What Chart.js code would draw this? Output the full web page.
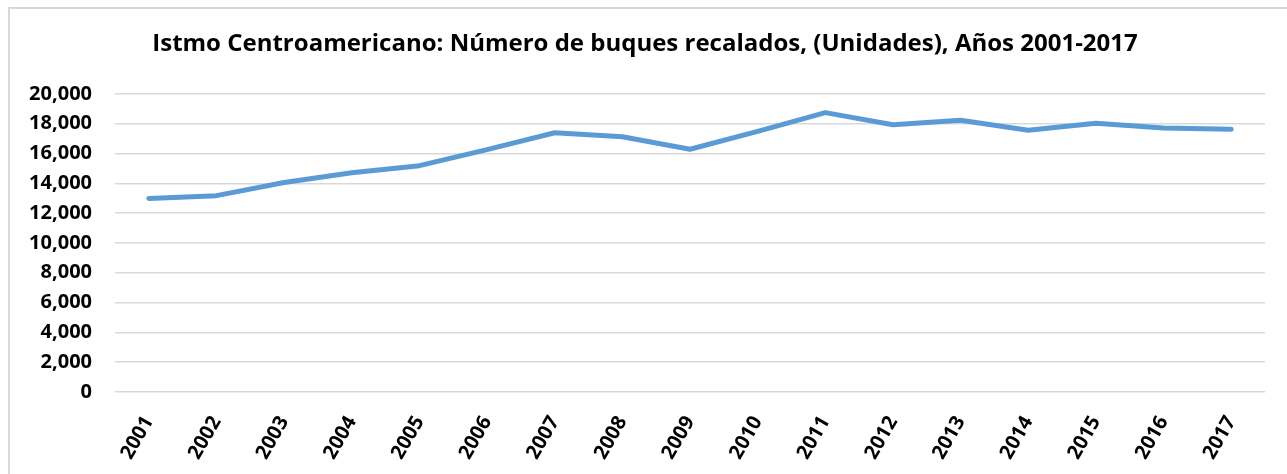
<!DOCTYPE html>
<html lang="es">
<head>
<meta charset="utf-8">
<title>Número de buques recalados</title>
<script src="https://cdn.jsdelivr.net/npm/chart.js@4"></script>
<style>
    html, body {
        margin: 0;
        padding: 0;
        background: #ffffff;
        overflow: hidden;
    }
    .chart-frame {
        position: absolute;
        left: 8px;
        top: 7px;
        width: 1300px;
        height: 500px;
        border: 2px solid #d9d9d9;
        box-sizing: border-box;
    }
    .chart-wrap {
        position: absolute;
        left: 0;
        top: 0;
        width: 1287px;
        height: 474px;
    }
</style>
</head>
<body>
<div class="chart-frame"></div>
<div class="chart-wrap">
    <canvas id="buques-chart" width="1287" height="474"></canvas>
</div>
<script>
// Chart data
const years = ['2001', '2002', '2003', '2004', '2005', '2006', '2007', '2008', '2009',
               '2010', '2011', '2012', '2013', '2014', '2015', '2016', '2017'];
const buques = [12980, 13170, 14050, 14700, 15180, 16260, 17390, 17120, 16280,
                17480, 18740, 17920, 18220, 17560, 18020, 17700, 17630];
const yTicks = [0, 2000, 4000, 6000, 8000, 10000, 12000, 14000, 16000, 18000, 20000];
const chartTitle = 'Istmo Centroamericano: Número de buques recalados, (Unidades), Años 2001-2017';

const FONT = '"Open Sans", "Liberation Sans", sans-serif';

/**
 * Format a number with commas as thousands separator
 */
function formatNumber(value) {
    return value.toString().replace(/\B(?=(\d{3})+(?!\d))/g, ',');
}

function initChart() {
    const canvas = document.getElementById('buques-chart');

    new Chart(canvas.getContext('2d'), {
        type: 'line',
        data: {
            labels: years,
            datasets: [{
                label: 'Buques recalados',
                data: buques,
                borderColor: '#5b9bd5',
                backgroundColor: '#5b9bd5',
                borderWidth: 5,
                borderCapStyle: 'round',
                borderJoinStyle: 'round',
                pointRadius: 0,
                tension: 0,
                fill: false
            }]
        },
        options: {
            responsive: false,
            animation: false,
            layout: {
                // a bit of left padding moves the title centre to the right
                padding: { left: 25, right: 22, top: 0, bottom: 0 }
            },
            plugins: {
                legend: { display: false },
                tooltip: { enabled: false },
                title: {
                    display: true,
                    text: chartTitle,
                    color: '#000000',
                    font: { family: FONT, size: 24, weight: 'bold' },
                    padding: { top: 30, bottom: 35 }
                }
            },
            scales: {
                x: {
                    offset: true,
                    grid: { display: false },
                    border: { display: false },
                    ticks: {
                        color: '#000000',
                        font: { family: FONT, size: 20, weight: 'bold' },
                        minRotation: 60,
                        maxRotation: 60,
                        padding: 12,
                        autoSkip: false
                    },
                    afterFit: function(scale) {
                        scale.height = 82;
                    }
                },
                y: {
                    min: 0,
                    max: 20000,
                    grid: {
                        color: '#d9d9d9',
                        lineWidth: 1.5,
                        drawTicks: false
                    },
                    border: { display: false },
                    afterBuildTicks: function(scale) {
                        scale.ticks = yTicks.map(v => ({ value: v }));
                    },
                    ticks: {
                        color: '#000000',
                        font: { family: FONT, size: 20, weight: 'bold' },
                        padding: 23,
                        callback: function(value) {
                            return formatNumber(value);
                        }
                    },
                    afterFit: function(scale) {
                        scale.width = 90;
                    }
                }
            }
        }
    });
}

document.addEventListener('DOMContentLoaded', initChart);
</script>
</body>
</html>
